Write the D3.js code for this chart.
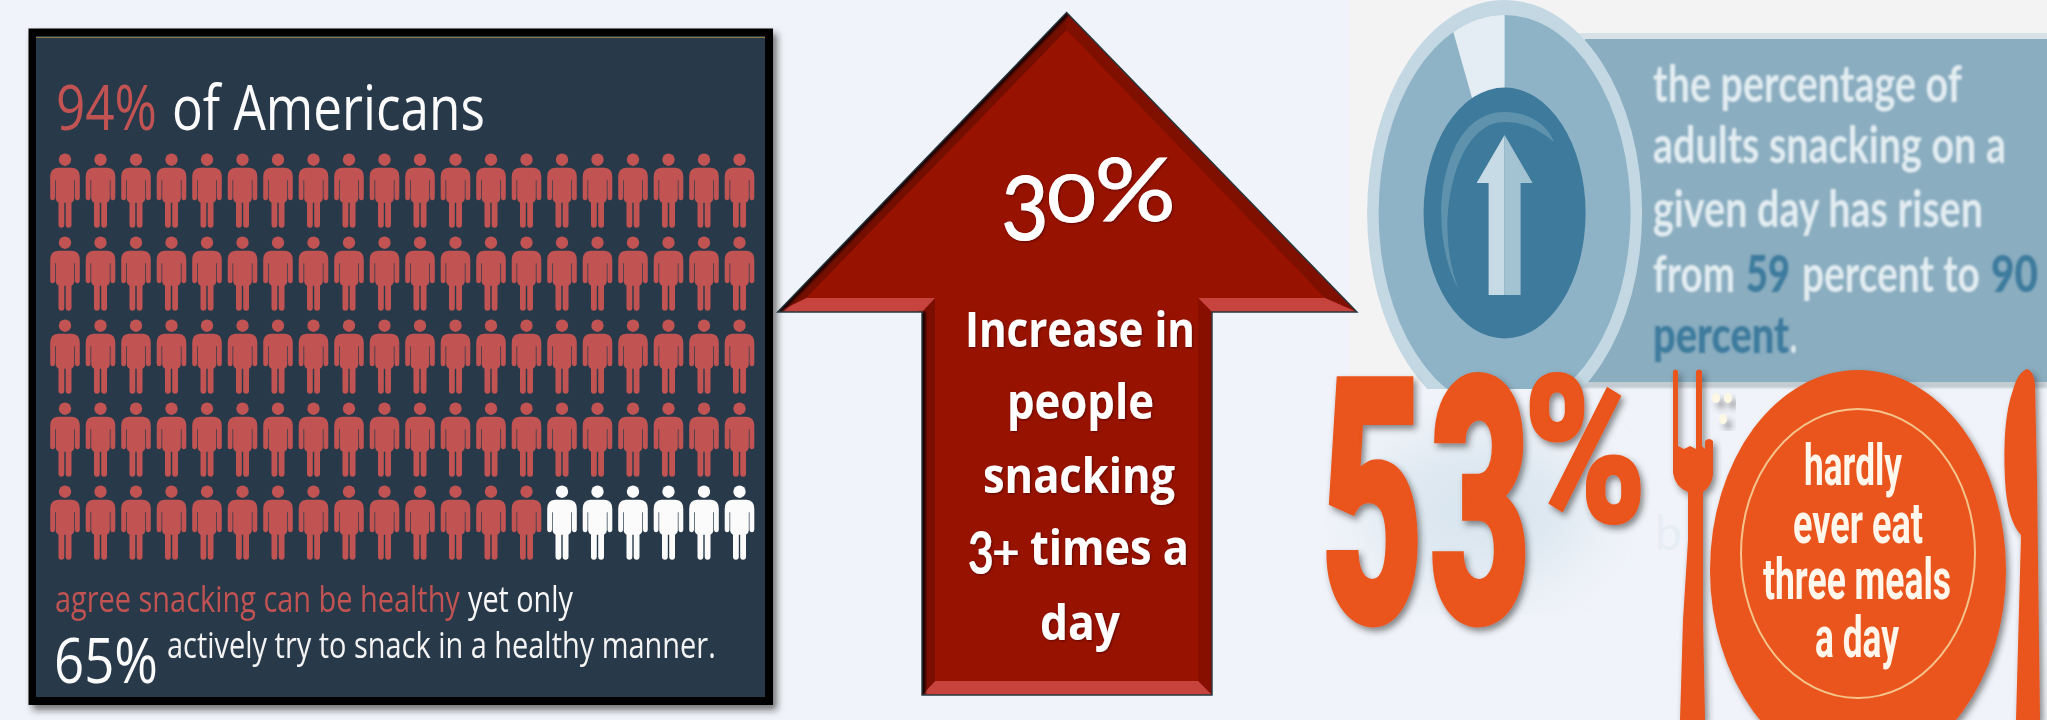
<!DOCTYPE html>
<html>
<head>
<meta charset="utf-8">
<style>
html,body{margin:0;padding:0;background:#f0f4f9;overflow:hidden}
svg{display:block}
</style>
<script src="https://cdn.jsdelivr.net/npm/d3@7/dist/d3.min.js"></script>
</head>
<body>
<script>
// Snacking statistics poster: pictogram, growth arrow, two callouts.
const populationSize = 100;
const agreePercent = 94;
const columnsPerRow = 20;
const rowsOfPeople = 5;
const headlineWords = ["94%", "of Americans"];
const panelLineOne = ["agree snacking can be healthy", "yet only"];
const panelLineTwo = ["65%", "actively try to snack in a healthy manner."];
const arrowLines = ["Increase in", "people", "snacking", "times a", "day"];
const bandLines = ["the percentage of", "adults snacking on a", "given day has risen"];
const bandFrom = 59, bandTo = 90;
const gaugeWedgeDegrees = 24;
const plateLines = ["hardly", "ever eat", "three meals", "a day"];

const W = 2047, H = 720;
const ORANGE = "#e9541a", RED = "#c25352", PANEL = "#28394a", BRICK = "#981200";

const svg = d3.select("body").append("svg").attr("width", W).attr("height", H);
const defs = svg.append("defs");

function blur(id, sd) {
  defs.append("filter").attr("id", id).attr("x", "-20%").attr("y", "-20%")
    .attr("width", "140%").attr("height", "140%")
    .append("feGaussianBlur").attr("stdDeviation", sd);
}
function shadow(id, dx, dy, sd, color, op) {
  defs.append("filter").attr("id", id).attr("x", "-20%").attr("y", "-20%")
    .attr("width", "140%").attr("height", "140%")
    .append("feDropShadow").attr("dx", dx).attr("dy", dy).attr("stdDeviation", sd)
    .attr("flood-color", color).attr("flood-opacity", op);
}
blur("soft", 0.55);
blur("softer", 0.9);
blur("edgeBlur", 1.1);
blur("haze", 32);
shadow("panelShadow", 4, 5, 3.5, "#222", 0.6);
shadow("orangeShadow", 3, 4, 3, "#333", 0.55);
shadow("textShadow", 1, 1, 1, "#300", 0.55);
shadow("beadShadow", 5, 6, 3, "#333", 0.45);

const measure = document.createElement("canvas").getContext("2d");

// Stretch a string so its inked outline fills the given box.
function inkFit(parent, str, family, weight, [x0, y0, x1, y1], fill, thicken) {
  measure.font = `${weight} 100px ${family}`;
  const m = measure.measureText(str);
  const left = -m.actualBoundingBoxLeft, right = m.actualBoundingBoxRight;
  const asc = m.actualBoundingBoxAscent, desc = m.actualBoundingBoxDescent;
  const t = (thicken || 0) / 2;
  const sx = (x1 - x0 - 2 * t) / (right - left), sy = (y1 - y0 - 2 * t) / (asc + desc);
  const node = parent.append("text")
    .attr("transform", `translate(${x0 + t - left * sx},${y1 - t - desc * sy}) scale(${sx},${sy})`)
    .attr("font-family", family).attr("font-weight", weight).attr("font-size", 100)
    .attr("fill", fill).text(str);
  if (thicken) node.attr("stroke", fill).attr("stroke-width", thicken).attr("vector-effect", "non-scaling-stroke");
  return node;
}
// One line of text squeezed horizontally to a given width.
function fitLine(parent, str, x, baseline, width, size, family, weight, fill, anchor) {
  measure.font = `${weight} ${size}px ${family}`;
  const sx = width / measure.measureText(str).width;
  return parent.append("text")
    .attr("transform", `translate(${x},${baseline}) scale(${sx},1)`)
    .attr("text-anchor", anchor || "start")
    .attr("font-family", family).attr("font-size", size).attr("font-weight", weight)
    .attr("fill", fill).text(str);
}

/* Backgrounds */
svg.append("rect").attr("width", W).attr("height", H).attr("fill", "#f0f3f9");
svg.append("rect").attr("x", 1349).attr("y", 0).attr("width", W - 1349).attr("height", 385).attr("fill", "#f3f3f4");
svg.append("ellipse").attr("cx", 1480).attr("cy", 510).attr("rx", 110).attr("ry", 75)
  .attr("fill", "#d3e2ec").attr("opacity", 0.75).attr("filter", "url(#haze)");

/* Left panel: pictogram of 100 people */
const panel = svg.append("g");
panel.append("rect").attr("x", 28.5).attr("y", 28.5).attr("width", 744.5).attr("height", 676.5)
  .attr("fill", "#000").attr("filter", "url(#panelShadow)");
panel.append("rect").attr("x", 36).attr("y", 36).attr("width", 729).attr("height", 661).attr("fill", PANEL);
panel.append("line").attr("x1", 36).attr("x2", 765).attr("y1", 37.5).attr("y2", 37.5)
  .attr("stroke", "#8f7d3f").attr("stroke-width", 1.2);

const personBody = "M-7 15H7Q14.8 15.5 14.8 24V44.5Q14.8 47.5 12.4 47.5Q10 47.5 10 44.5V27.5H9.3V46Q9.3 48 6.5 50V72Q6.5 75 3.6 75Q0.8 75 0.7 72V50H-0.7V72Q-0.8 75 -3.6 75Q-6.5 75 -6.5 72V50Q-9.3 48 -9.3 46V27.5H-10V44.5Q-10 47.5 -12.4 47.5Q-14.8 47.5 -14.8 44.5V24Q-14.8 15.5 -7 15Z";
const colX = d3.scalePoint().domain(d3.range(columnsPerRow)).range([65, 739.5]);
const rowY = d3.scalePoint().domain(d3.range(rowsOfPeople)).range([152.7, 484.7]);
const people = panel.append("g").attr("filter", "url(#soft)");
const person = people.selectAll("g").data(d3.range(populationSize)).join("g")
  .attr("transform", i => `translate(${colX(i % columnsPerRow)},${rowY(Math.floor(i / columnsPerRow))})`)
  .attr("fill", i => i < agreePercent ? RED : "#fbfbfb");
person.append("circle").attr("cy", 7).attr("r", 6.2);
person.append("path").attr("d", personBody);

const panelText = panel.append("g").attr("filter", "url(#soft)");
const panelFont = "'Open Sans'";
fitLine(panelText, headlineWords[0], 56, 130, 101, 63, panelFont, 500, RED);
fitLine(panelText, headlineWords[1], 172, 130, 313, 63, panelFont, 500, "#fbfbfb");
fitLine(panelText, panelLineOne[0], 55, 612, 405, 36, panelFont, 400, RED);
fitLine(panelText, panelLineOne[1], 468, 612, 105, 36, panelFont, 400, "#f8f8f8");
fitLine(panelText, panelLineTwo[0], 54, 683, 104, 62, panelFont, 400, "#fbfbfb");
fitLine(panelText, panelLineTwo[1], 167, 658, 549, 37, panelFont, 400, "#f4f4f4");

/* Centre arrow with bevelled edges */
const outer = [[1066.6,12.6],[1357,312],[1212,312],[1212,695],[922,695],[922,312],[777.6,312]];
const inner = [[1066.6,30],[1325,298],[1198,298],[1198,681],[935,681],[935,298],[806,298]];
const bevelFill = ["#7f1000","#c7433d","#870f00","#c7433d","#7a0e00","#c7433d","#740f00"];
const arrowPath = d3.line();
defs.append("clipPath").attr("id", "arrowClip").append("path").attr("d", arrowPath(outer) + "Z");
const arrow = svg.append("g");
arrow.append("path").attr("d", arrowPath(outer) + "Z").attr("fill", BRICK);
const bevels = arrow.append("g").attr("clip-path", "url(#arrowClip)");
bevels.selectAll("path").data(outer).join("path")
  .attr("d", (p, i) => {
    const j = (i + 1) % outer.length;
    return arrowPath([p, outer[j], inner[j], inner[i]]) + "Z";
  })
  .attr("fill", (p, i) => bevelFill[i]);
// Darkened rim on the shaded left edges.
bevels.append("path")
  .attr("d", arrowPath([outer[6], outer[0]]) + "M" + outer[5] + "L" + outer[4])
  .attr("fill", "none").attr("stroke", "#1d0500").attr("stroke-width", 7).attr("filter", "url(#edgeBlur)");
arrow.append("path").attr("d", arrowPath(outer) + "Z").attr("fill", "none")
  .attr("stroke", "#25383f").attr("stroke-width", 1.4).attr("stroke-linejoin", "miter");

const arrowText = arrow.append("g").attr("filter", "url(#textShadow)");
inkFit(arrowText, "3", "Lato", 400, [1004, 173, 1045, 241], "#fff", 1);
inkFit(arrowText, "0", "Lato", 400, [1049, 173, 1094, 223], "#fff", 1);
inkFit(arrowText, "%", "Lato", 400, [1098, 155, 1172, 222], "#fff", 1);
const arrowFont = "'Open Sans'";
fitLine(arrowText, arrowLines[0], 965, 347, 230, 49, arrowFont, 700, "#fff");
fitLine(arrowText, arrowLines[1], 1007, 419, 147, 49, arrowFont, 700, "#fff");
fitLine(arrowText, arrowLines[2], 983, 493, 192, 49, arrowFont, 700, "#fff");
inkFit(arrowText, "3", "Lato", 700, [969, 531, 992, 575], "#fff");
inkFit(arrowText, "+", "Lato", 700, [994, 541, 1018, 565], "#fff");
fitLine(arrowText, arrowLines[3], 1030, 565, 159, 49, arrowFont, 700, "#fff");
fitLine(arrowText, arrowLines[4], 1040, 640, 80, 49, arrowFont, 700, "#fff");

/* Top right: gauge ring and blue band */
const blue = svg.append("g");
blue.append("rect").attr("x", 1575).attr("y", 33).attr("width", W - 1575).attr("height", 8).attr("fill", "#d6e2e8");
blue.append("rect").attr("x", 1575).attr("y", 378).attr("width", W - 1575).attr("height", 10).attr("fill", "#c3ccd2").attr("filter", "url(#softer)");
blue.append("rect").attr("x", 1585).attr("y", 39).attr("width", W - 1585).attr("height", 343).attr("fill", "#8aadc0");
defs.append("clipPath").attr("id", "gaugeClip").append("rect").attr("x", 1340).attr("y", 0).attr("width", 400).attr("height", 389);
const gauge = blue.append("g").attr("clip-path", "url(#gaugeClip)");
const CX = 1504.6, CY = 213;
gauge.append("ellipse").attr("cx", CX).attr("cy", CY).attr("rx", 137.5).attr("ry", 213).attr("fill", "#c3d8e3");
gauge.append("ellipse").attr("cx", CX).attr("cy", CY).attr("rx", 126).attr("ry", 198).attr("fill", "#8fb3c6");
// The wedge sits on a unit ring, squeezed to the gauge's ellipse.
const wedgeArc = d3.arc().innerRadius(0.5).outerRadius(1).startAngle(-gaugeWedgeDegrees * Math.PI / 180).endAngle(0);
gauge.append("path").attr("d", wedgeArc())
  .attr("transform", `translate(${CX},${CY}) scale(126,198)`).attr("fill", "#e4edf3");
gauge.append("ellipse").attr("cx", CX).attr("cy", CY).attr("rx", 81).attr("ry", 125.5).attr("fill", "#3d7a9c");
gauge.append("path").attr("d", "M1459 290C1425 230 1440 112 1504 112C1530 112 1548 125 1554 142C1540 130 1525 122 1504 122C1455 122 1432 225 1459 290Z").attr("fill", "#5f93ad");
gauge.append("path").attr("d", "M1504.6 135L1476.6 183H1488.6V295H1504.6Z").attr("fill", "#c6dbe6");
gauge.append("path").attr("d", "M1504.6 135L1532.6 183H1520.6V295H1504.6Z").attr("fill", "#a3c2d2");

const bandText = blue.append("g").attr("filter", "url(#softer)");
const bandFont = "Lato", BAND_INK = "#e3edf1", BAND_NUM = "#3d7a9c";
fitLine(bandText, bandLines[0], 1653, 102, 309, 52, bandFont, 700, BAND_INK);
fitLine(bandText, bandLines[1], 1653, 163, 353, 52, bandFont, 700, BAND_INK);
fitLine(bandText, bandLines[2], 1653, 227, 331, 52, bandFont, 700, BAND_INK);
fitLine(bandText, "from", 1653, 292, 82, 52, bandFont, 700, BAND_INK);
fitLine(bandText, String(bandFrom), 1746, 292, 44, 52, bandFont, 900, BAND_NUM);
fitLine(bandText, "percent to", 1802, 292, 178, 52, bandFont, 700, BAND_INK);
fitLine(bandText, String(bandTo), 1991, 292, 47, 52, bandFont, 900, BAND_NUM);
fitLine(bandText, "percent", 1653, 353, 136, 52, bandFont, 900, BAND_NUM);
fitLine(bandText, ".", 1790, 353, 7, 52, bandFont, 700, BAND_INK);

// Ghost of an older caption showing through below the band.
svg.append("text").attr("x", 1655).attr("y", 550).attr("font-family", bandFont).attr("font-size", 48)
  .attr("fill", "#e6edf4").text("b");

/* Bottom right: 53% and the plate */
const orange = svg.append("g").attr("filter", "url(#orangeShadow)");
const heavy = "Roboto";
inkFit(orange, "5", heavy, 900, [1324, 377, 1419, 627], ORANGE, 4);
inkFit(orange, "3", heavy, 900, [1431, 373, 1526, 627], ORANGE, 4);
inkFit(orange, "%", heavy, 900, [1529, 373, 1641, 525], ORANGE, 2);

orange.append("path").attr("fill", ORANGE).attr("d",
  "M1673 371Q1675 368 1678 371V446L1684 449L1690 446L1696 449V371Q1699 368 1702 371V446L1705 449V441Q1709 437 1713 441V475Q1711 487 1703 492V620L1705 720H1680L1683 620L1688 540V492Q1675 487 1673 473Z");
orange.append("ellipse").attr("cx", 1858).attr("cy", 570).attr("rx", 148).attr("ry", 200).attr("fill", ORANGE);
orange.append("path").attr("fill", ORANGE).attr("d",
  "M2027 369Q2034 371 2035 385L2037 480L2040 720H2016L2021 535Q2007 520 2005 480Q2002 420 2013 390Q2018 372 2027 369Z");

svg.append("ellipse").attr("cx", 1858).attr("cy", 553.5).attr("rx", 117).attr("ry", 144.5)
  .attr("fill", "none").attr("stroke", "#f5c48d").attr("stroke-width", 2);

const plateText = svg.append("g").attr("filter", "url(#soft)");
fitLine(plateText, plateLines[0], 1853, 485, 98, 57, heavy, 700, "#fff6ec", "middle");
fitLine(plateText, plateLines[1], 1858, 543, 130, 57, heavy, 700, "#fff6ec", "middle");
fitLine(plateText, plateLines[2], 1857, 599, 188, 57, heavy, 700, "#fff6ec", "middle");
fitLine(plateText, plateLines[3], 1857, 657, 84, 57, heavy, 700, "#fff6ec", "middle");

svg.append("g").attr("filter", "url(#beadShadow)").selectAll("ellipse")
  .data([[1716, 398], [1728, 398], [1723, 419]]).join("ellipse")
  .attr("cx", d => d[0]).attr("cy", d => d[1]).attr("rx", 4).attr("ry", 5).attr("fill", "#fcf8e3");
</script>
</body>
</html>
